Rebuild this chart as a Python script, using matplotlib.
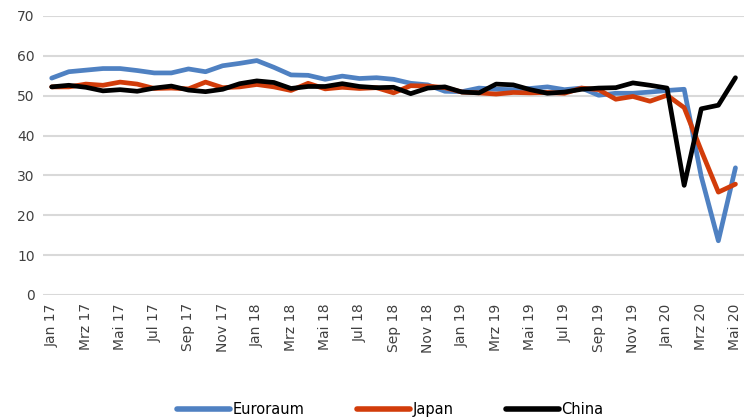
import matplotlib.pyplot as plt

months = ['Jan', 'Feb', 'Mrz', 'Apr', 'Mai', 'Jun', 'Jul', 'Aug', 'Sep', 'Okt', 'Nov', 'Dez']
labels = [f'{m} {y}' for y in ['17', '18', '19', '20'] for m in months][:41]

euroraum = [54.4, 56.0, 56.4, 56.8, 56.8, 56.3, 55.7, 55.7, 56.7, 56.0, 57.5, 58.1,
            58.8, 57.1, 55.2, 55.1, 54.1, 54.9, 54.3, 54.5, 54.1, 53.1, 52.7, 51.1,
            51.0, 51.9, 51.6, 51.5, 51.8, 52.2, 51.5, 51.9, 50.1, 50.6, 50.6, 50.9,
            51.3, 51.6, 29.7, 13.6, 31.9]
japan = [52.2, 52.2, 52.9, 52.6, 53.4, 52.9, 51.8, 51.9, 51.7, 53.4, 52.0, 52.2,
         52.8, 52.2, 51.3, 53.1, 51.7, 52.1, 51.8, 52.0, 50.7, 52.5, 52.4, 52.0,
         50.9, 50.7, 50.4, 50.8, 50.7, 50.8, 50.6, 51.9, 51.5, 49.1, 49.8, 48.6,
         50.1, 47.0, 36.2, 25.8, 27.8]
china = [52.2, 52.6, 52.1, 51.2, 51.5, 51.1, 51.9, 52.4, 51.4, 51.0, 51.6, 53.0,
         53.7, 53.3, 51.8, 52.3, 52.3, 53.0, 52.3, 52.0, 52.1, 50.5, 51.9, 52.2,
         50.9, 50.7, 52.9, 52.7, 51.5, 50.6, 50.9, 51.6, 51.9, 52.0, 53.2, 52.6,
         51.9, 27.5, 46.7, 47.6, 54.5]

x = list(range(len(labels)))

fig = plt.figure(figsize=(7.44, 4.19), dpi=100)
ax = fig.add_axes([0.058, 0.296, 0.942, 0.666])

lw = 3.4
ax.plot(x, euroraum, color='#4F81C2', lw=lw, solid_joinstyle='round', solid_capstyle='round', label='Euroraum')
ax.plot(x, japan, color='#D23C0A', lw=lw, solid_joinstyle='round', solid_capstyle='round', label='Japan')
ax.plot(x, china, color='#000000', lw=lw, solid_joinstyle='round', solid_capstyle='round', label='China')

ax.set_xlim(-0.5, 40.5)
ax.set_ylim(0, 70)
ax.set_yticks(range(0, 71, 10))
ax.set_xticks(x[::2])
ax.set_xticklabels(labels[::2], rotation=90, fontsize=10, color='#404040')
ax.tick_params(axis='y', labelsize=10, colors='#404040')
ax.tick_params(length=0, pad=6)
ax.grid(axis='y', color='#D9D9D9', lw=1.5)
ax.set_axisbelow(True)
for s in ax.spines.values():
    s.set_visible(False)

leg = fig.legend(loc='lower center', ncol=3, bbox_to_anchor=(0.525, -0.027), frameon=False,
                 fontsize=10.5, handlelength=3.6, columnspacing=3.6, handletextpad=0.2)
for h in leg.get_lines():
    h.set_linewidth(4)
    h.set_solid_capstyle('round')

fig.savefig('out.png', dpi=100)
